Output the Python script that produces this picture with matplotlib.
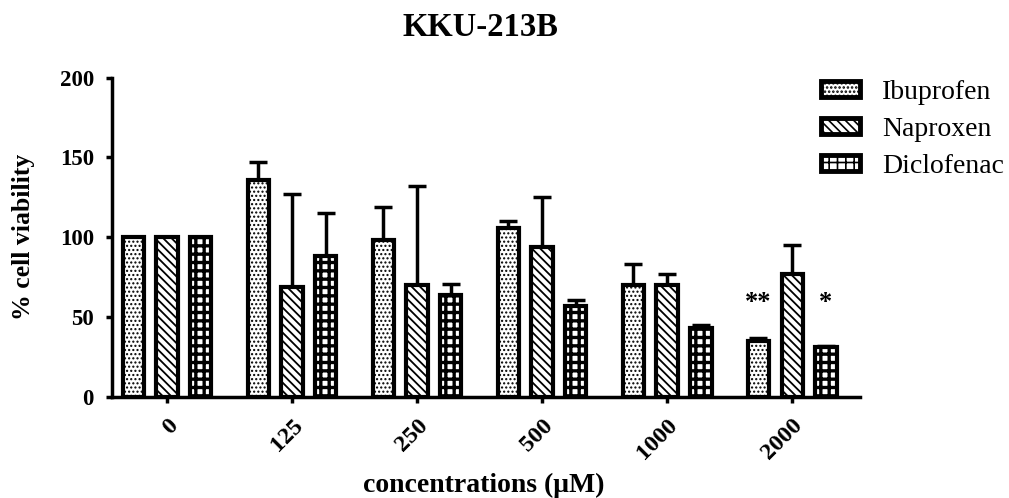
import numpy as np
import matplotlib
matplotlib.use("Agg")
import matplotlib.pyplot as plt
from matplotlib.patches import Patch
from matplotlib.transforms import ScaledTranslation

# data
concentrations = ["0", "125", "250", "500", "1000", "2000"]
drugs = ["Ibuprofen", "Naproxen", "Diclofenac"]
ibuprofen = [100, 136, 98, 106, 70, 35]
ibuprofen_err = [0, 11, 21, 4, 13, 2]
naproxen = [100, 69, 70, 94, 70, 77]
naproxen_err = [0, 58, 62, 31, 7, 18]
diclofenac = [100, 88, 64, 57, 43, 31]
diclofenac_err = [0, 27, 7, 4, 2, 1]
stars = {(0, 5): "**", (2, 5): "*"}
star_y = 59

hatches = ["....", "\\\\\\\\", "++"]
hatch_lw = [1.0, 1.3, 2.4]

plt.rcParams["font.family"] = ["Liberation Serif", "DejaVu Serif"]
plt.rcParams["hatch.linewidth"] = 1.2

fig = plt.figure(figsize=(10.09, 4.98), dpi=100)
ax = fig.add_axes([0.111, 0.203, 0.741, 0.641])

x = np.arange(len(concentrations))
offset = 0.27
width = 0.17
series = [(ibuprofen, ibuprofen_err), (naproxen, naproxen_err), (diclofenac, diclofenac_err)]

handles = []
for i, (vals, errs) in enumerate(series):
    pos = x + (i - 1) * offset
    bars = ax.bar(pos, vals, width, facecolor="white", edgecolor="black",
                  linewidth=3, hatch=hatches[i], zorder=3)
    for b in bars:
        if hasattr(b, "set_hatch_linewidth"):
            b.set_hatch_linewidth(hatch_lw[i])
    e = np.array(errs)
    ax.errorbar(pos, vals, yerr=[np.zeros_like(e), e], fmt="none",
                ecolor="black", elinewidth=2.5, capsize=6.5, capthick=2.5, zorder=2)
    p = Patch(facecolor="white", edgecolor="black", linewidth=3.5,
              hatch=hatches[i], label=drugs[i])
    if hasattr(p, "set_hatch_linewidth"):
        p.set_hatch_linewidth(hatch_lw[i])
    handles.append(p)

for (i, g), s in stars.items():
    ax.text(x[g] + (i - 1) * offset, star_y, s, ha="center", va="center",
            fontsize=19, fontweight="bold")

ax.set_xlim(-0.44, 5.54)
ax.set_ylim(0, 200)
ax.set_yticks([0, 50, 100, 150, 200])
ax.set_xticks(x)
ax.set_xticklabels(concentrations, rotation=45, ha="right", rotation_mode="anchor",
                   fontsize=17.5, fontweight="bold")
# nudge rotated labels a little left, like the original
shift = ScaledTranslation(-6 / 72, 2 / 72, fig.dpi_scale_trans)
for lab in ax.get_xticklabels():
    lab.set_transform(lab.get_transform() + shift)
for lab in ax.get_yticklabels():
    lab.set_fontsize(16.5)
    lab.set_fontweight("bold")
ax.tick_params(width=2.5, length=4, direction="out")
ax.tick_params(axis="y", pad=9)
ax.tick_params(axis="x", pad=9)
ax.spines["top"].set_visible(False)
ax.spines["right"].set_visible(False)
ax.spines["left"].set_linewidth(2.5)
ax.spines["bottom"].set_linewidth(2.5)

ax.set_ylabel("% cell viability", fontsize=18.5, fontweight="bold")
ax.yaxis.set_label_coords(-0.103, 0.5)
ax.set_xlabel("concentrations (\u03bcM)", fontsize=20, fontweight="bold")
ax.xaxis.set_label_coords(0.497, -0.237)
fig.text(0.476, 0.945, "KKU-213B", ha="center", va="center", fontsize=23.5, fontweight="bold")

fig.legend(handles=handles, loc="upper left", bbox_to_anchor=(0.814, 0.839),
           frameon=False, fontsize=20, handlelength=1.4, handleheight=0.5,
           labelspacing=0.42, handletextpad=0.8, borderaxespad=0, borderpad=0)

plt.savefig("out.png", dpi=100)
plt.close()
